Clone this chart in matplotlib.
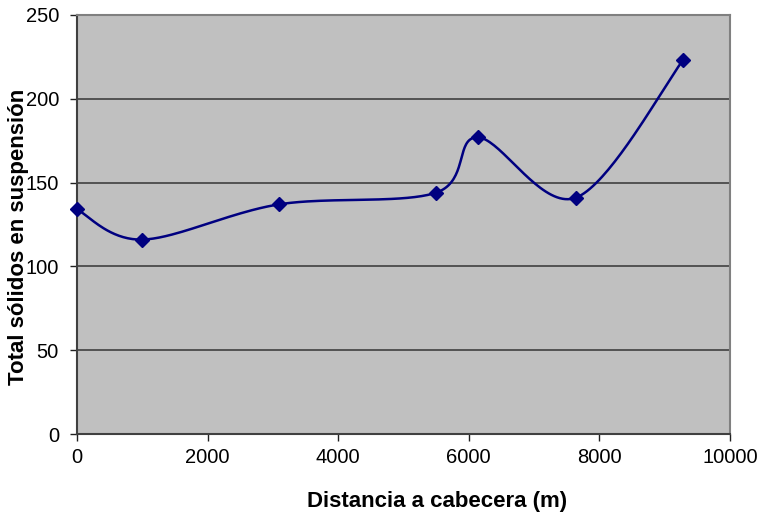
import numpy as np
import matplotlib
matplotlib.use("Agg")
import matplotlib.pyplot as plt

plt.rcParams['font.family'] = ['Liberation Sans', 'DejaVu Sans']

# Sampling points along the river
distancia = [0, 1000, 3090, 5500, 6140, 7640, 9280]
solidos = [134, 116, 137, 144, 177, 141, 223]


def smooth_curve(xs, ys, n=40):
    # Bezier smoothing between consecutive points (spreadsheet-style)
    xs = np.asarray(xs, float)
    ys = np.asarray(ys, float)
    px, py = [], []
    m = len(xs)
    for i in range(m - 1):
        i0 = max(i - 1, 0)
        i3 = min(i + 2, m - 1)
        p0 = np.array([xs[i], ys[i]])
        p3 = np.array([xs[i + 1], ys[i + 1]])
        c1 = p0 + (np.array([xs[i + 1], ys[i + 1]]) - np.array([xs[i0], ys[i0]])) / 6
        c2 = p3 - (np.array([xs[i3], ys[i3]]) - np.array([xs[i], ys[i]])) / 6
        t = np.linspace(0, 1, n)[:, None]
        b = ((1 - t) ** 3) * p0 + 3 * ((1 - t) ** 2) * t * c1 + 3 * (1 - t) * t ** 2 * c2 + t ** 3 * p3
        px.extend(b[:, 0])
        py.extend(b[:, 1])
    return np.array(px), np.array(py)


fig = plt.figure(figsize=(7.63, 5.12), dpi=100)
ax = fig.add_axes([77 / 763, 78 / 512, 653 / 763, 419 / 512])
ax.set_facecolor('#C0C0C0')

sx, sy = smooth_curve(distancia, solidos)
ax.plot(sx, sy, color='#000080', linewidth=1.8, zorder=3)
ax.plot(distancia, solidos, linestyle='none', marker='D', markersize=7.5,
        color='#000080', zorder=4, clip_on=False)

ax.set_xlim(0, 10000)
ax.set_ylim(0, 250)
ax.set_xticks(range(0, 10001, 2000))
ax.set_yticks(range(0, 251, 50))
ax.yaxis.grid(True, color='#4a4a4a', linewidth=1.3)
ax.set_axisbelow(True)

for side in ['left', 'bottom']:
    ax.spines[side].set_color('#404040')
    ax.spines[side].set_linewidth(1.5)
for side in ['top', 'right']:
    ax.spines[side].set_color('#808080')
    ax.spines[side].set_linewidth(1.5)

ax.tick_params(direction='out', length=5, width=1, color='#202020',
               labelsize=14.5)
ax.tick_params(axis='x', pad=5)
ax.tick_params(axis='y', pad=8)

fig.text(437 / 763, 1 - 502 / 512, 'Distancia a cabecera (m)', fontsize=16,
         fontweight='bold', ha='center', va='center')
fig.text(19 / 763, 1 - 237 / 512, 'Total sólidos en suspensión', rotation=90,
         fontsize=16, fontweight='bold', ha='center', va='center')

fig.savefig('out.png', dpi=100)
